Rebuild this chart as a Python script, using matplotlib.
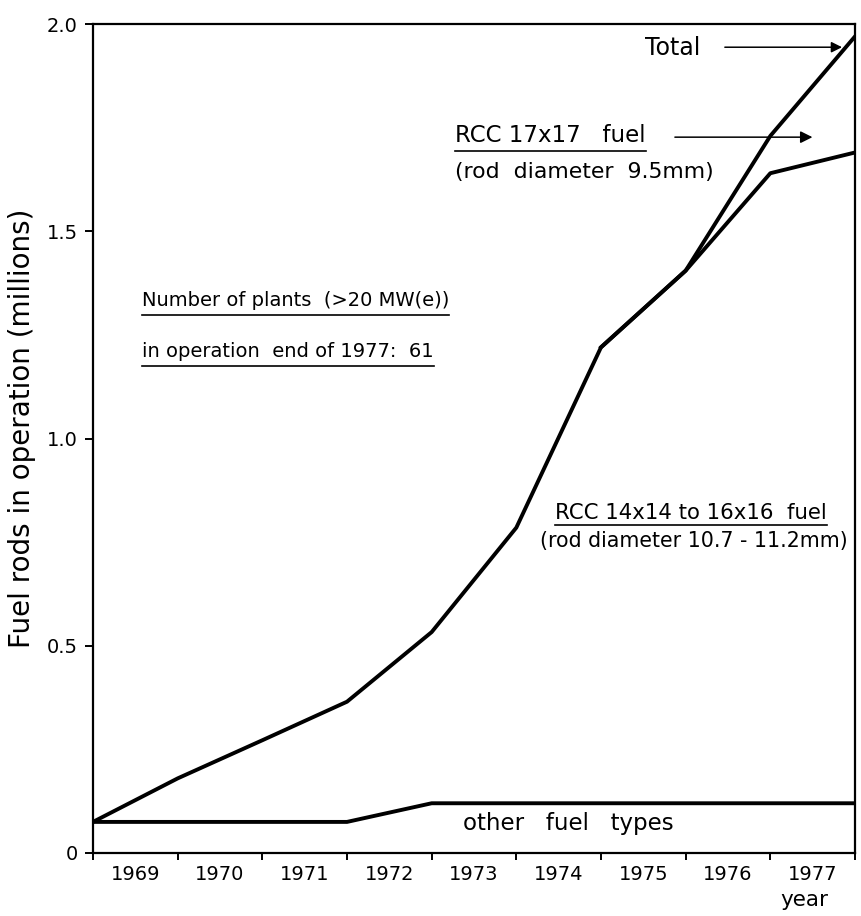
import matplotlib
matplotlib.use("Agg")
import matplotlib.pyplot as plt
from matplotlib.lines import Line2D
import numpy as np

plt.rcParams['font.family'] = ['DejaVu Sans']

# Year boundaries (start of 1969 ... end of 1977) and fuel rods in operation (millions)
year_edges = [1969, 1970, 1971, 1972, 1973, 1974, 1975, 1976, 1977, 1978]
year_labels = ["1969", "1970", "1971", "1972", "1973", "1974", "1975", "1976", "1977"]
total_rods = [0.075, 0.18, 0.272, 0.365, 0.533, 0.785, 1.22, 1.405, 1.73, 1.97]
rcc_17x17_rods = [0, 0, 0, 0, 0, 0, 0, 0, 0.09, 0.28]
other_rods = [0.075, 0.075, 0.075, 0.075, 0.12, 0.12, 0.12, 0.12, 0.12, 0.12]
y_ticks = [0, 0.5, 1.0, 1.5, 2.0]
y_tick_labels = ["0", "0.5", "1.0", "1.5", "2.0"]

fig = plt.figure(figsize=(8.61, 9.16), dpi=100)
ax = fig.add_axes([93 / 861, 63 / 916, 762 / 861, 829 / 916])

x = np.array(year_edges, dtype=float)
total = np.array(total_rods)
rcc17 = np.array(rcc_17x17_rods)
other = np.array(other_rods)
lower = total - rcc17

lw = 2.8
ax.plot(x, total, color="black", lw=lw, solid_joinstyle="miter")
split = 7  # 17x17 fuel appears after 1975
ax.plot(x[split - 1:], lower[split - 1:], color="black", lw=lw)
ax.plot(x, other, color="black", lw=lw)

ax.set_xlim(year_edges[0], year_edges[-1])
ax.set_ylim(0, 2.0)

for s in ax.spines.values():
    s.set_linewidth(1.6)

ax.set_xticks(year_edges)
ax.set_xticklabels([])
ax.set_xticks([y + 0.5 for y in year_edges[:-1]], minor=True)
ax.set_xticklabels(year_labels, minor=True, fontsize=14)
ax.tick_params(axis="x", which="major", direction="out", length=5, width=1.4)
ax.tick_params(axis="x", which="minor", length=0, pad=9)

ax.set_yticks(y_ticks)
ax.set_yticklabels(y_tick_labels, fontsize=14)
ax.tick_params(axis="y", direction="out", length=6, width=1.4, pad=5)

fig.text(22 / 861, 1 - 428 / 916, "Fuel rods in operation (millions)",
         rotation=90, ha="center", va="center", fontsize=20)
fig.text(804 / 861, 1 - 900 / 916, "year", ha="center", va="center", fontsize=15.5)

t_total = ax.text(1975.52, 1.942, "Total", fontsize=17, va="center", ha="left")
ax.annotate("", xy=(1977.88, 1.944), xytext=(1976.43, 1.944),
            arrowprops=dict(arrowstyle="-|>", lw=1.1, color="black", mutation_scale=16))

t17 = ax.text(1973.28, 1.732, "RCC 17x17   fuel", fontsize=16.5, va="center", ha="left")
ax.annotate("", xy=(1977.53, 1.727), xytext=(1975.84, 1.727),
            arrowprops=dict(arrowstyle="-|>", lw=1.1, color="black", mutation_scale=18))
ax.text(1973.28, 1.643, "(rod  diameter  9.5mm)", fontsize=15.8, va="center", ha="left")

t_np = ax.text(1969.58, 1.334, "Number of plants  (>20 MW(e))", fontsize=14, va="center", ha="left")
t_op = ax.text(1969.58, 1.211, "in operation  end of 1977:  61", fontsize=14, va="center", ha="left")

t14 = ax.text(1974.46, 0.820, "RCC 14x14 to 16x16  fuel", fontsize=15.3, va="center", ha="left")
ax.text(1974.28, 0.753, "(rod diameter 10.7 - 11.2mm)", fontsize=14.8, va="center", ha="left")

ax.text(1973.37, 0.070, "other   fuel   types", fontsize=16.5, va="center", ha="left")

# underline selected captions
fig.canvas.draw()
renderer = fig.canvas.get_renderer()
inv = fig.transFigure.inverted()
for t, gap in [(t17, 4), (t_np, 5), (t_op, 5), (t14, 2)]:
    bb = t.get_window_extent(renderer)
    (x0, y0), (x1, _) = inv.transform([(bb.x0, bb.y0 - gap), (bb.x1, bb.y0 - gap)])
    fig.add_artist(Line2D([x0, x1], [y0, y0], transform=fig.transFigure,
                          color="black", lw=1.2))

fig.savefig("out.png", dpi=100)
